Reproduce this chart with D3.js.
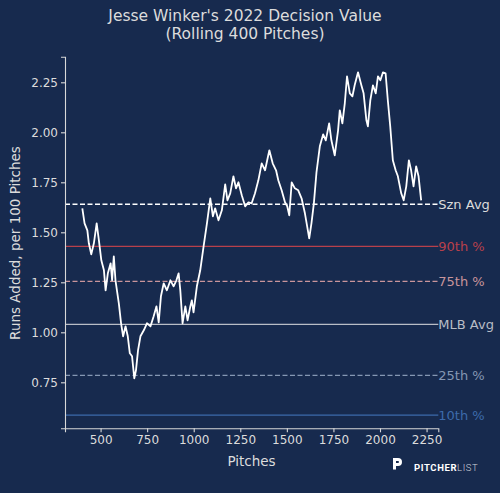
<!DOCTYPE html>
<html>
<head>
<meta charset="utf-8">
<script src="https://cdn.jsdelivr.net/npm/d3@7"></script>
<style>
  body { margin: 0; background: #172a4e; }
  svg { display: block; font-family: "DejaVu Sans", sans-serif; }
</style>
</head>
<body>
<div class="chartBox"></div>
<script>
// rolling decision value
var pitches = [402, 414, 429, 437, 450, 464, 479, 491, 504, 518, 527, 539, 554, 562, 571, 580,
  598, 610, 621, 634, 646, 657, 669, 681, 690, 701, 714, 732, 749, 768, 785, 800, 812, 824,
  839, 856, 875, 892, 907, 919, 928, 940, 955, 967, 982, 990, 999, 1017, 1035, 1053, 1071,
  1089, 1103, 1115, 1133, 1151, 1169, 1181, 1196, 1213, 1227, 1240, 1258, 1276, 1294, 1311,
  1329, 1347, 1365, 1383, 1406, 1424, 1442, 1454, 1472, 1490, 1502, 1513, 1526, 1543, 1561,
  1579, 1597, 1609, 1620, 1632, 1645, 1659, 1677, 1695, 1709, 1727, 1739, 1757, 1775, 1784,
  1798, 1811, 1823, 1838, 1852, 1864, 1882, 1900, 1912, 1927, 1935, 1948, 1962, 1977, 1989,
  2002, 2016, 2030, 2042, 2055, 2069, 2084, 2096, 2114, 2127, 2141, 2155, 2167, 2180, 2194,
  2207, 2221];
var decisionValue = [1.62, 1.545, 1.51, 1.445, 1.39, 1.445, 1.545, 1.46, 1.36, 1.31, 1.21, 1.295,
  1.345, 1.26, 1.38, 1.26, 1.145, 1.045, 0.98, 1.03, 0.98, 0.895, 0.88, 0.77, 0.81, 0.91, 0.98,
  1.01, 1.045, 1.03, 1.08, 1.13, 1.05, 1.18, 1.245, 1.21, 1.26, 1.23, 1.26, 1.295, 1.21, 1.045,
  1.13, 1.06, 1.13, 1.16, 1.10, 1.23, 1.31, 1.43, 1.545, 1.67, 1.58, 1.62, 1.56, 1.61, 1.74,
  1.66, 1.695, 1.78, 1.72, 1.75, 1.685, 1.63, 1.65, 1.645, 1.695, 1.76, 1.845, 1.81, 1.91,
  1.845, 1.81, 1.76, 1.71, 1.65, 1.63, 1.585, 1.75, 1.72, 1.71, 1.67, 1.595, 1.53, 1.47, 1.545,
  1.645, 1.8, 1.93, 1.99, 1.96, 2.045, 1.96, 1.885, 2.01, 2.11, 2.045, 2.145, 2.28, 2.195,
  2.18, 2.235, 2.30, 2.235, 2.195, 2.06, 2.03, 2.16, 2.235, 2.195, 2.28, 2.26, 2.30, 2.295,
  2.16, 2.03, 1.86, 1.81, 1.78, 1.695, 1.66, 1.73, 1.86, 1.81, 1.73, 1.83, 1.78, 1.66];

var refNames = ['Szn Avg', '90th %', '75th %', 'MLB Avg', '25th %', '10th %'];
var refValues = [1.64, 1.43, 1.255, 1.04, 0.785, 0.586];
var refColors = ['#ffffff', '#b8404b', '#c9959b', '#b9bdc6', '#8597b3', '#3d6aab'];
var refDash = ['5,2.5', null, '5,2.5', null, '5,2.5', null];

var xTicks = [500, 750, 1000, 1250, 1500, 1750, 2000, 2250];
var yTicks = [0.75, 1.00, 1.25, 1.50, 1.75, 2.00, 2.25];

var W = 500, H = 493;
var margin = { top: 56.7, right: 61.7, bottom: 64.7, left: 65 };
var axisColor = '#d8d8d8', textColor = '#dcdcdc';

var svg = d3.select('div.chartBox')
  .append('svg')
  .attr('width', W)
  .attr('height', H);

svg.append('rect').attr('width', W).attr('height', H).attr('fill', '#172a4e');

var x = d3.scaleLinear().domain([309, 2313]).range([margin.left, W - margin.right]);
var y = d3.scaleLinear().domain([0.52, 2.378]).range([H - margin.bottom, margin.top]);

// title
svg.append('text')
  .attr('x', 245).attr('y', 21)
  .attr('text-anchor', 'middle')
  .attr('fill', textColor)
  .attr('font-size', 15.5)
  .text("Jesse Winker's 2022 Decision Value");
svg.append('text')
  .attr('x', 245).attr('y', 38.5)
  .attr('text-anchor', 'middle')
  .attr('fill', textColor)
  .attr('font-size', 15.5)
  .text('(Rolling 400 Pitches)');

// reference lines
refValues.forEach(function(v, i) {
  svg.append('line')
    .attr('x1', x.range()[0]).attr('x2', x.range()[1])
    .attr('y1', y(v)).attr('y2', y(v))
    .attr('stroke', refColors[i])
    .attr('stroke-width', i === 0 ? 1.5 : 1.2)
    .attr('stroke-dasharray', refDash[i]);
  svg.append('text')
    .attr('x', x.range()[1])
    .attr('y', y(v))
    .attr('dy', '0.35em')
    .attr('fill', i === 0 ? textColor : refColors[i])
    .attr('font-size', 13)
    .text(refNames[i]);
});

// the rolling line
var line = d3.line()
  .x(function(d, i) { return x(pitches[i]); })
  .y(function(d) { return y(d); });

svg.append('path')
  .datum(decisionValue)
  .attr('d', line)
  .attr('fill', 'none')
  .attr('stroke', '#ffffff')
  .attr('stroke-width', 1.8)
  .attr('stroke-linejoin', 'round');

// axes
var xAxis = svg.append('g')
  .attr('transform', 'translate(0,' + (H - margin.bottom) + ')')
  .call(d3.axisBottom(x).tickValues(xTicks).tickFormat(d3.format('d'))
    .tickSizeOuter(0).tickSize(4).tickPadding(3));
var yAxis = svg.append('g')
  .attr('transform', 'translate(' + margin.left + ',0)')
  .call(d3.axisLeft(y).tickValues(yTicks).tickFormat(d3.format('.2f'))
    .tickSizeOuter(0).tickSize(4).tickPadding(3));

[xAxis, yAxis].forEach(function(g) {
  g.select('.domain').attr('stroke', axisColor).attr('stroke-width', 1.1);
  g.selectAll('.tick line').attr('stroke', axisColor).attr('stroke-width', 1.1);
  g.selectAll('.tick text').attr('fill', textColor).attr('font-size', 12)
    .attr('font-family', '"DejaVu Sans", sans-serif');
});

svg.append('text')
  .attr('x', 251.5).attr('y', 466)
  .attr('text-anchor', 'middle')
  .attr('fill', textColor)
  .attr('font-size', 13.5)
  .text('Pitches');

svg.append('text')
  .attr('transform', 'translate(19.5,' + 243 + ') rotate(-90)')
  .attr('text-anchor', 'middle')
  .attr('fill', textColor)
  .attr('font-size', 13.5)
  .text('Runs Added, per 100 Pitches');

// pitcher list mark
var logo = svg.append('g').attr('transform', 'translate(393,458)');
logo.append('path')
  .attr('d', 'M0,0 H5 A4,4 0 0 1 5,8 H3 V11.5 H0 Z M3,3 V5 H5 A1,1 0 0 0 5,3 Z')
  .attr('fill', '#ffffff')
  .attr('fill-rule', 'evenodd');
var lt = svg.append('text')
  .attr('x', 414).attr('y', 470.5)
  .attr('fill', '#ffffff')
  .attr('font-size', 9.5)
  .attr('font-family', 'Roboto, "DejaVu Sans", sans-serif')
  .attr('letter-spacing', 0.6);
lt.append('tspan').attr('font-weight', 'bold').text('PITCHER');
lt.append('tspan').attr('font-weight', 300).attr('fill', '#d0d4dc').text('LIST');
</script>
</body>
</html>
